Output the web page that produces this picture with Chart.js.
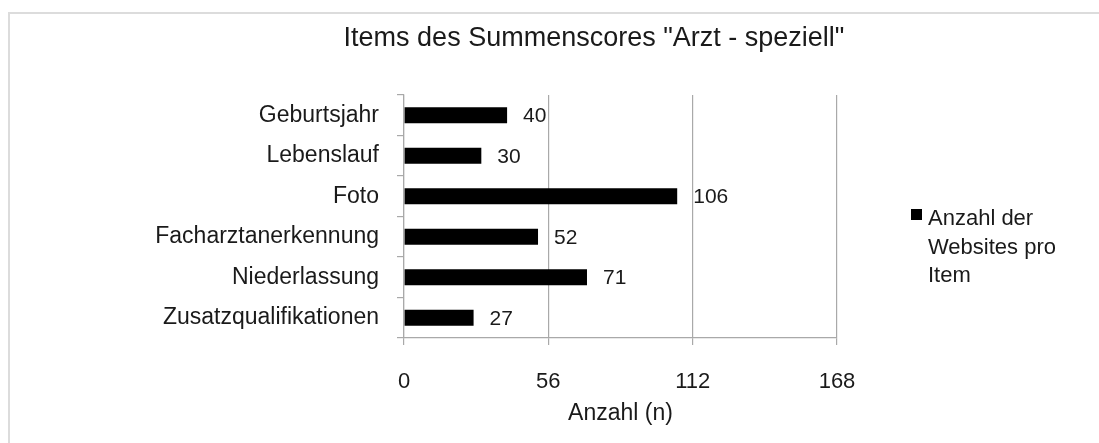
<!DOCTYPE html>
<html>
<head>
<meta charset="utf-8">
<script src="https://cdn.jsdelivr.net/npm/chart.js@4.4.1/dist/chart.umd.min.js"></script>
<style>
    html, body { margin: 0; padding: 0; background: #fff; }
    #wrap { width: 1099px; height: 443px; position: relative; }
</style>
</head>
<body>
<div id="wrap"><canvas id="chart" width="1099" height="443"></canvas></div>
<script>
// Data
const categories = ['Geburtsjahr', 'Lebenslauf', 'Foto', 'Facharztanerkennung', 'Niederlassung', 'Zusatzqualifikationen'];
const websiteCounts = [40, 30, 106, 52, 71, 27];
const xTicks = [0, 56, 112, 168];
const chartTitle = 'Items des Summenscores "Arzt - speziell"';
const xAxisTitle = 'Anzahl (n)';
const legendLines = ['Anzahl der', 'Websites pro', 'Item'];

const FONT = '"Liberation Sans", Arial, Helvetica, sans-serif';
const GRID = '#a9a9a9';
const TEXT = '#1a1a1a';

// Frame, title, legend and value labels
const extras = {
    id: 'extras',
    beforeDraw(chart) {
        const ctx = chart.ctx;
        ctx.save();
        ctx.fillStyle = '#dcdcdc';
        ctx.fillRect(8, 12, 1091, 2);
        ctx.fillRect(8, 12, 2, 431);
        ctx.restore();
    },
    afterDatasetsDraw(chart) {
        const ctx = chart.ctx;
        ctx.save();
        ctx.fillStyle = TEXT;

        // title
        ctx.font = '27px ' + FONT;
        ctx.textAlign = 'center';
        ctx.textBaseline = 'middle';
        ctx.fillText(chartTitle, 594, 39);

        // value labels next to each bar
        ctx.font = '21px ' + FONT;
        ctx.textAlign = 'left';
        const meta = chart.getDatasetMeta(0);
        meta.data.forEach((bar, i) => {
            ctx.fillText(String(websiteCounts[i]), bar.x + 16, bar.y + 1);
        });

        // legend
        ctx.fillStyle = '#000';
        ctx.fillRect(911, 209, 11, 11);
        ctx.fillStyle = TEXT;
        ctx.font = '22px ' + FONT;
        legendLines.forEach((line, i) => {
            ctx.fillText(line, 928, 219 + i * 28.5);
        });
        ctx.restore();
    }
};

new Chart(document.getElementById('chart'), {
    type: 'bar',
    data: {
        labels: categories,
        datasets: [{
            label: legendLines.join(' '),
            data: websiteCounts,
            backgroundColor: '#000',
            borderWidth: 0,
            barPercentage: 0.395,
            categoryPercentage: 1
        }]
    },
    options: {
        indexAxis: 'y',
        responsive: false,
        animation: false,
        layout: { padding: { left: 0, right: 262, top: 95, bottom: 0 } },
        plugins: {
            legend: { display: false },
            title: { display: false },
            tooltip: { enabled: false }
        },
        scales: {
            x: {
                min: 0,
                max: 168,
                afterBuildTicks: (scale) => {
                    scale.ticks = xTicks.map(v => ({ value: v }));
                },
                afterFit: (scale) => { scale.height = 105; },
                grid: {
                    color: GRID,
                    lineWidth: 1.2,
                    tickLength: 7,
                    drawOnChartArea: true
                },
                border: { color: GRID, width: 1.2 },
                ticks: {
                    color: TEXT,
                    font: { family: FONT, size: 22 },
                    padding: 24,
                    maxRotation: 0
                },
                title: {
                    display: true,
                    text: xAxisTitle,
                    color: TEXT,
                    font: { family: FONT, size: 23 },
                    padding: { top: 0, bottom: 16 }
                }
            },
            y: {
                afterFit: (scale) => { scale.width = 404; },
                grid: {
                    color: GRID,
                    lineWidth: 1.2,
                    tickLength: 7,
                    drawOnChartArea: false,
                    offset: true
                },
                border: { color: GRID, width: 1.2 },
                ticks: {
                    color: TEXT,
                    font: { family: FONT, size: 23 },
                    padding: 18
                }
            }
        }
    },
    plugins: [extras]
});
</script>
</body>
</html>
